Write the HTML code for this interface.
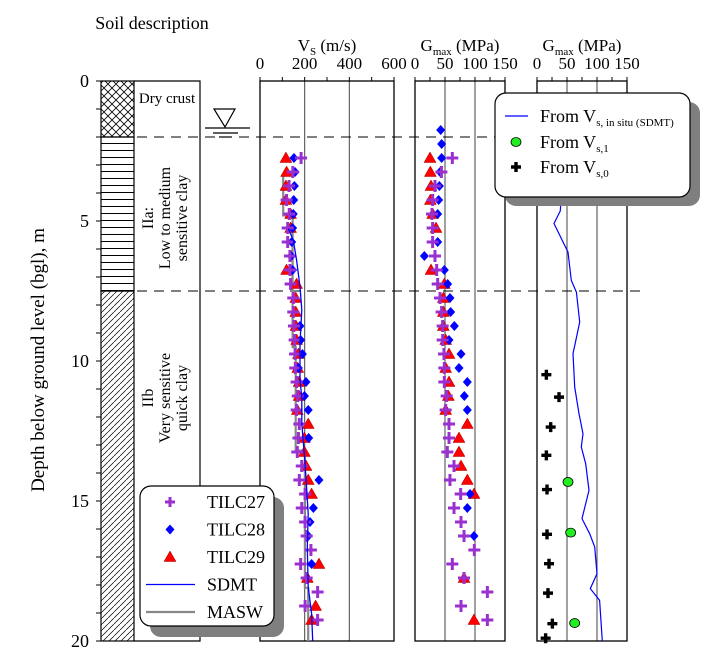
<!DOCTYPE html>
<html><head><meta charset="utf-8"><style>
html,body{margin:0;padding:0;background:#fff}
svg{display:block;font-family:"Liberation Serif",serif}
</style></head><body>
<svg id="chart" width="708" height="671" viewBox="0 0 708 671" xmlns="http://www.w3.org/2000/svg">
<defs>
<pattern id="cross" width="8" height="8" patternUnits="userSpaceOnUse"><path d="M0 0L8 8M8 0L0 8" stroke="#000" stroke-width="0.8"/></pattern>
<pattern id="horiz" width="10" height="7" patternUnits="userSpaceOnUse"><path d="M0 3.5H10" stroke="#000" stroke-width="1"/></pattern>
<pattern id="diag" width="6" height="6" patternUnits="userSpaceOnUse"><path d="M-1 7L7 -1" stroke="#000" stroke-width="0.7"/></pattern>
</defs>
<g id="g"></g>
</svg>
<script>
// ---- data ----
const depths = [1.75,2.25,2.75,3.25,3.75,4.25,4.75,5.25,5.75,6.25,6.75,7.25,7.75,8.25,8.75,9.25,9.75,10.25,10.75,11.25,11.75,12.25,12.75,13.25,13.75,14.25,14.75,15.25,15.75,16.25,16.75,17.25,17.75,18.25,18.75,19.25];
const vsTilc27 = [null,null,184,147,130,119,131,124,124,134,134,137,149,149,152,155,157,158,164,169,164,176,172,167,187,176,202,187,202,209,228,182,209,258,202,258];
const vsTilc28 = [null,null,152,157,154,151,149,146,142,140,146,null,null,null,179,182,190,172,206,199,216,null,218,null,null,264,null,239,224,216,null,231,null,null,null,null];
const vsTilc29 = [null,null,116,119,116,116,137,137,null,null,119,164,160,160,161,164,172,169,175,175,167,216,199,199,206,216,231,null,null,null,null,264,212,null,249,231];
const gTilc27 = [null,null,62.2,44,33.3,29.4,28.3,29.4,29.4,33.3,36.1,37.8,41.7,44.4,46.1,46.1,48.3,48.9,48.9,52.8,51.1,56.7,56.7,53.9,65,58.3,76.1,65,76.7,81.7,98.9,62.2,81.7,120.6,76.7,120.6];
const gTilc28 = [42.8,44.4,44.4,41.7,40.6,39.4,37.8,null,37.8,15.6,48.9,54.4,58.3,59.4,65.6,56.7,76.7,73.3,87.2,82.2,87.2,null,null,null,null,null,91.7,87.2,null,98.3,null,null,null,null,null,null];
const gTilc29 = [null,null,25,25.6,26.7,25.6,29.4,35,null,null,26.7,48.9,47.2,47.2,47.2,51.1,56.7,51.1,56.7,55.6,51.1,87.2,73.3,73.3,76.7,87.2,98.3,null,null,null,null,null,81.7,null,null,98.3];
const sdmtVsDepth = [5.27,5.69,6.4,7.35,8.18,9.37,10.68,11.29,12.24,13.67,15.45,16.64,18.07,19.02,20];
const sdmtVs = [127,149,164,179,187,179,179,187,187,202,216,212,216,231,236];
const maswDepth = [3.4,4.8,4.8,9.5,9.5,13.2,13.2,18.1,18.1,20];
const maswVs = [104,104,146,146,160,160,201,201,216,216];
const gSdmtDepth = [2.2,3.0,3.9,4.64,5.09,5.87,6.11,7.12,7.54,8.61,9.74,10.93,11.88,12.6,13.07,13.67,14.62,15.63,16.17,16.64,17.6,18.13,18.55,20];
const gSdmt = [40,42,41,38.9,28.3,46.1,51.7,57.2,65.6,71.1,60,62.8,70,76.7,73.9,81.1,86.7,75,87.8,96.1,100,88.9,104.4,108.9];
const gVs1Depth = [14.32,16.13,19.36];
const gVs1 = [51.7,56.1,62.8];
const gVs0Depth = [10.49,11.29,12.36,13.37,14.59,16.19,17.24,18.29,19.38,19.9];
const gVs0 = [15.6,36.7,22.8,15.6,16.7,16.7,20,18.3,25.6,14.4];
const vsTicks = [0,200,400,600];
const gTicks = [0,50,100,150];
const depthTicks = [0,5,10,15,20];

// ---- geometry ----
const Y0=81, Y1=641;
const y = d => Y0 + d*(Y1-Y0)/20;
const xVs = v => 260 + v*(134/600);
const xG2 = v => 415 + v*(90/150);
const xG3 = v => 537 + v*(90/150);
const NS="http://www.w3.org/2000/svg";
const root=document.getElementById('g');
function mk(tag, attrs, parent){const e=document.createElementNS(NS,tag);for(const k in attrs)e.setAttribute(k,attrs[k]);(parent||root).appendChild(e);return e;}
function txt(x,yy,s,size,anchor,parent){const t=mk('text',{x:x,y:yy,'font-size':size,'text-anchor':anchor||'middle',fill:'#000'},parent);t.textContent=s;return t;}

let e;
e=mk('rect',{x:101,y:y(0),width:33,height:y(2)-y(0),fill:'url(#cross)',stroke:'#000','stroke-width':1.2});


e=mk('rect',{x:101,y:y(2),width:33,height:y(7.5)-y(2),fill:'url(#horiz)',stroke:'#000','stroke-width':1.2});


e=mk('rect',{x:101,y:y(7.5),width:33,height:y(20)-y(7.5),fill:'url(#diag)',stroke:'#000','stroke-width':1.2});


e=mk('path',{d:`M134 ${Y0}H200V${Y1}H134`,fill:'none',stroke:'#000','stroke-width':1.2});


for(let d=0; d<=20; d++){
  e=mk('line',{x1:96,x2:101,y1:y(d),y2:y(d),stroke:'#000','stroke-width':1});
  
  
}
depthTicks.forEach(d=>{
  e=txt(89,y(d)+6,String(d),18,'end');
  
  
});
e=txt(0,0,'Depth below ground level (bgl), m',19);
e.setAttribute('transform','translate(44,360) rotate(-90)');


e=txt(152,29,'Soil description',18);


e=txt(167,103,'Dry crust',15);


const l1=mk('g',{transform:'translate(167,218) rotate(-90)'});


txt(0,-14,'IIa:',16,'middle',l1);txt(0,3,'Low to medium',16,'middle',l1);txt(0,20,'sensitive clay',16,'middle',l1);
const l2=mk('g',{transform:'translate(167,398) rotate(-90)'});


txt(0,-14,'IIb',16,'middle',l2);txt(0,3,'Very sensitive',16,'middle',l2);txt(0,20,'quick clay',16,'middle',l2);
const wt=mk('g',{});


mk('path',{d:'M214 109H235L225 127Z',fill:'#fff',stroke:'#000','stroke-width':1.2},wt);
mk('line',{x1:205,x2:250,y1:128,y2:128,stroke:'#000','stroke-width':1.2},wt);
mk('line',{x1:213,x2:238,y1:133,y2:133,stroke:'#000','stroke-width':1.2},wt);
mk('line',{x1:219,x2:232,y1:137,y2:137,stroke:'#000','stroke-width':1.2},wt);

function panel(name,x0,x1,ticks,scale,minor,grid,title,sub,unit){
  const p=mk('g',{});
  
  
  grid.forEach(v=>mk('line',{x1:scale(v),x2:scale(v),y1:Y0,y2:Y1,stroke:'#555','stroke-width':1.1},p));
  mk('rect',{x:x0,y:Y0,width:x1-x0,height:Y1-Y0,fill:'none',stroke:'#000','stroke-width':1.3},p);
  minor.forEach(v=>mk('line',{x1:scale(v),x2:scale(v),y1:Y0-4,y2:Y0,stroke:'#000','stroke-width':1},p));
  ticks.forEach(v=>{const t=txt(scale(v),69,String(v),17,'middle',p);});
  const t=mk('text',{x:(x0+x1)/2,y:51,'font-size':17,'text-anchor':'middle'},p);
  
  
  t.innerHTML=`${title}<tspan font-size="11" dy="4">${sub}</tspan><tspan dy="-4"> ${unit}</tspan>`;
  return p;
}
const minorVs=[0,100,200,300,400,500,600], minorG=[0,25,50,75,100,125,150];
panel('vs-panel',260,394,vsTicks,xVs,minorVs,[200,400],'V','S','(m/s)');
panel('gmax-panel',415,505,gTicks,xG2,minorG,[50,100],'G','max','(MPa)');
panel('gmax-field-panel',537,627,gTicks,xG3,minorG,[50,100],'G','max','(MPa)');

[2,7.5].forEach(d=>{
  e=mk('line',{x1:137,x2:640,y1:y(d),y2:y(d),stroke:'#000','stroke-width':1,'stroke-dasharray':'10,7'});
  
  
});

function plus(x,yy,color,sw,sz,name){const g=mk('g',{});
  mk('path',{d:`M${x-sz} ${yy}H${x+sz}M${x} ${yy-sz}V${yy+sz}`,stroke:color,'stroke-width':sw},g);return g;}
function diamond(x,yy,name){const m=mk('path',{d:`M${x} ${yy-5}L${x+4.5} ${yy}L${x} ${yy+5}L${x-4.5} ${yy}Z`,fill:'#0000ff'});return m;}
function tri(x,yy,name){const m=mk('path',{d:`M${x} ${yy-6}L${x+6} ${yy+4.5}L${x-6} ${yy+4.5}Z`,fill:'#ff0000',stroke:'#a00','stroke-width':0.5});return m;}
function poly(ds,vs,sx,color,w,name){const pts=ds.map((d,i)=>sx(vs[i]).toFixed(1)+','+y(d).toFixed(1)).join(' ');const m=mk('polyline',{points:pts,fill:'none',stroke:color,'stroke-width':w});return m;}

poly(maswDepth,maswVs,xVs,'#888',2.2,'masw-line');
depths.forEach((d,i)=>{
  if(vsTilc29[i]!=null) tri(xVs(vsTilc29[i]),y(d),'vs-tilc29-point');
  if(vsTilc28[i]!=null) diamond(xVs(vsTilc28[i]),y(d),'vs-tilc28-point');
  if(vsTilc27[i]!=null) plus(xVs(vsTilc27[i]),y(d),'#9b30d0',3,6,'vs-tilc27-point');
  if(gTilc29[i]!=null) tri(xG2(gTilc29[i]),y(d),'g-tilc29-point');
  if(gTilc28[i]!=null) diamond(xG2(gTilc28[i]),y(d),'g-tilc28-point');
  if(gTilc27[i]!=null) plus(xG2(gTilc27[i]),y(d),'#9b30d0',3,6,'g-tilc27-point');
});
poly(sdmtVsDepth,sdmtVs,xVs,'#0000ff',1.3,'sdmt-vs-line');
poly(gSdmtDepth,gSdmt,xG3,'#0000ff',1.2,'g-sdmt-line');
gVs0Depth.forEach((d,i)=>plus(xG3(gVs0[i]),y(d),'#000',3.4,5,'g-vs0-point'));
gVs1Depth.forEach((d,i)=>{const c=mk('ellipse',{cx:xG3(gVs1[i]),cy:y(d),rx:5,ry:4.5,fill:'#22ee22',stroke:'#000','stroke-width':0.8});});

const L1=mk('g',{});


mk('rect',{x:150,y:497,width:134,height:140,rx:11,fill:'#7f7f7f'},L1);
mk('rect',{x:140,y:486,width:134,height:140,rx:11,fill:'#fff',stroke:'#000','stroke-width':1.2},L1);
const rows1=['TILC27','TILC28','TILC29','SDMT','MASW'];
rows1.forEach((s,i)=>{const yy=502+i*27.5;const t=txt(207,yy+6,s,18,'start',L1);});
plus(170,502,'#9b30d0',3,5,'legend-marker-tilc27');
diamond(170,529.5,'legend-marker-tilc28');
tri(170,557,'legend-marker-tilc29');
mk('line',{x1:146,x2:195,y1:584.5,y2:584.5,stroke:'#0000ff','stroke-width':1.3},L1);
mk('line',{x1:146,x2:195,y1:612,y2:612,stroke:'#888','stroke-width':2.2},L1);

const L2=mk('g',{});


mk('rect',{x:505,y:102,width:195,height:104,rx:11,fill:'#7f7f7f'},L2);
mk('rect',{x:495,y:93,width:195,height:104,rx:11,fill:'#fff',stroke:'#000','stroke-width':1.2},L2);
mk('line',{x1:505,x2:528,y1:116,y2:116,stroke:'#0000ff','stroke-width':1.3},L2);
mk('ellipse',{cx:516,cy:142,rx:5,ry:4.5,fill:'#22ee22',stroke:'#000','stroke-width':0.8},L2);
plus(516,167,'#000',3.4,5,'legend-marker-vs0');
const leg2=[['s, in situ (SDMT)',122],['s,1',148],['s,0',173]];
leg2.forEach(([sub,yy])=>{const t=mk('text',{x:540,y:yy,'font-size':18},L2);t.innerHTML=`From V<tspan font-size="11" dy="4">${sub}</tspan>`;});
</script>
</body></html>
